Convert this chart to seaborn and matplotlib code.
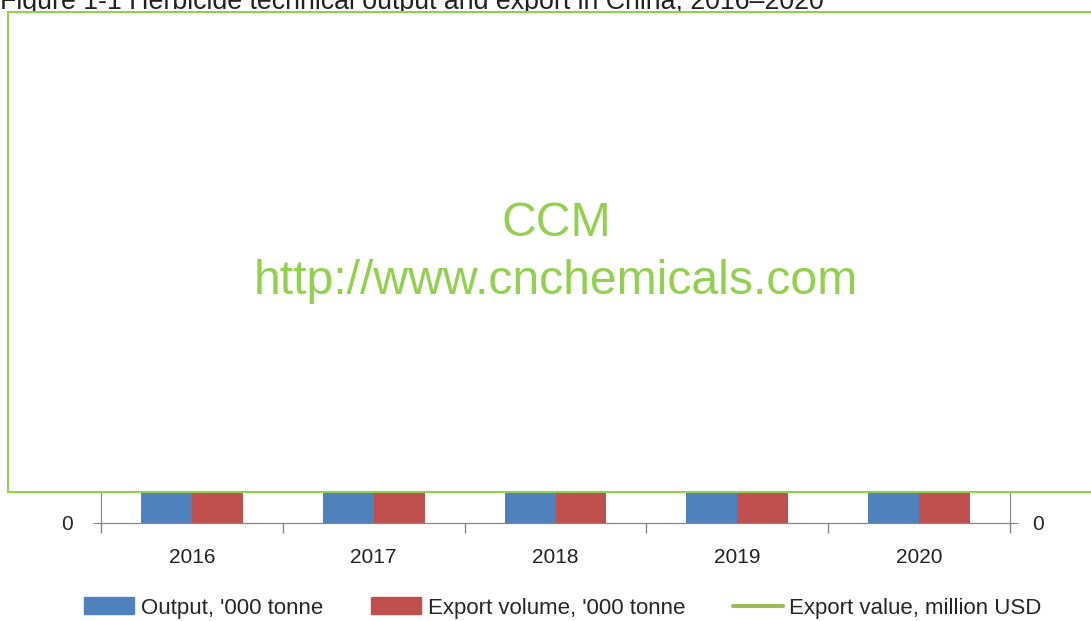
import pandas as pd
import seaborn as sns
import matplotlib.pyplot as plt
from matplotlib.patches import Rectangle
from matplotlib.lines import Line2D

# Data (bars and line are hidden behind the watermark box, values estimated)
years = ['2016', '2017', '2018', '2019', '2020']
output = [1770, 1510, 1390, 1340, 1420]
export_volume = [930, 960, 1010, 990, 1080]
export_value = [2900, 3150, 3900, 3700, 3950]

lbl_output = "Output, '000 tonne"
lbl_export = "Export volume, '000 tonne"
lbl_value = "Export value, million USD"

df = pd.DataFrame({'year': years * 2,
                   'value': output + export_volume,
                   'series': [lbl_output] * 5 + [lbl_export] * 5})

sns.set_style('white')
plt.rcParams['font.family'] = ['Liberation Sans', 'DejaVu Sans']

fig = plt.figure(figsize=(10.91, 6.21), dpi=100)
W, H = 1091, 621
ax = fig.add_axes([101 / W, (H - 523) / H, 909 / W, (523 - 40) / H])

blue, red, green = '#4F81BD', '#C0504D', '#9BBB59'
sns.barplot(data=df, x='year', y='value', hue='series', ax=ax,
            palette=[blue, red], width=0.56, saturation=1, legend=False,
            linewidth=0)

ax2 = ax.twinx()
ax2.plot(range(len(years)), export_value, color=green, lw=2.5)

ax.set_xlim(-0.5, 4.5)
ax.set_ylim(0, 2000)
ax2.set_ylim(0, 5000)
ax.set_xlabel('')
ax.set_ylabel('')

# category boundary ticks on x axis, labels in between
ax.set_xticks([i - 0.5 for i in range(6)])
ax.set_xticklabels([])
ax.set_xticks(range(5), minor=True)
ax.set_xticklabels(years, minor=True)
ax.tick_params(axis='x', which='major', bottom=True, direction='out',
               length=7, color='#868686', width=1)
ax.tick_params(axis='x', which='minor', bottom=True, length=0, pad=18,
               labelsize=15, labelcolor='#222222')
ax.tick_params(axis='y', left=True, direction='out', length=6,
               color='#868686', labelsize=15, pad=14)
ax2.tick_params(axis='y', right=True, direction='out', length=6,
                color='#868686', labelsize=15, pad=10)

for a in (ax, ax2):
    for s in a.spines.values():
        s.set_color('#868686')
    a.spines['top'].set_visible(False)

# legend
handles = [Rectangle((0, 0), 1, 1, color=blue),
           Rectangle((0, 0), 1, 1, color=red),
           Line2D([], [], color=green, lw=3)]
fig.legend(handles, [lbl_output, lbl_export, lbl_value], loc='center',
           bbox_to_anchor=(0.516, 1 - 608 / H), ncol=3, frameon=False,
           fontsize=16, handlelength=2.25, handleheight=0.8,
           handletextpad=0.3, columnspacing=2.15)

# title (clipped at the top edge, as in the source image)
fig.text(0.0, 1 - 9 / H, 'Figure 1-1 Herbicide technical output and export in China, 2016–2020',
         fontsize=19.3, ha='left', va='baseline', color='#222222')

# watermark box
fig.add_artist(Rectangle((8 / W, (H - 492) / H), 1.0, (492 - 12) / H,
                         transform=fig.transFigure, facecolor='white',
                         edgecolor='#92D050', lw=1.5, zorder=10))
fig.text(556 / W, 1 - 223 / H, 'CCM', color='#92D050', fontsize=34.7,
         ha='center', va='center', zorder=11)
fig.text(556 / W, 1 - 281 / H, 'http://www.cnchemicals.com', color='#92D050',
         fontsize=34.7, ha='center', va='center', zorder=11)

fig.savefig('out.png', dpi=100)
